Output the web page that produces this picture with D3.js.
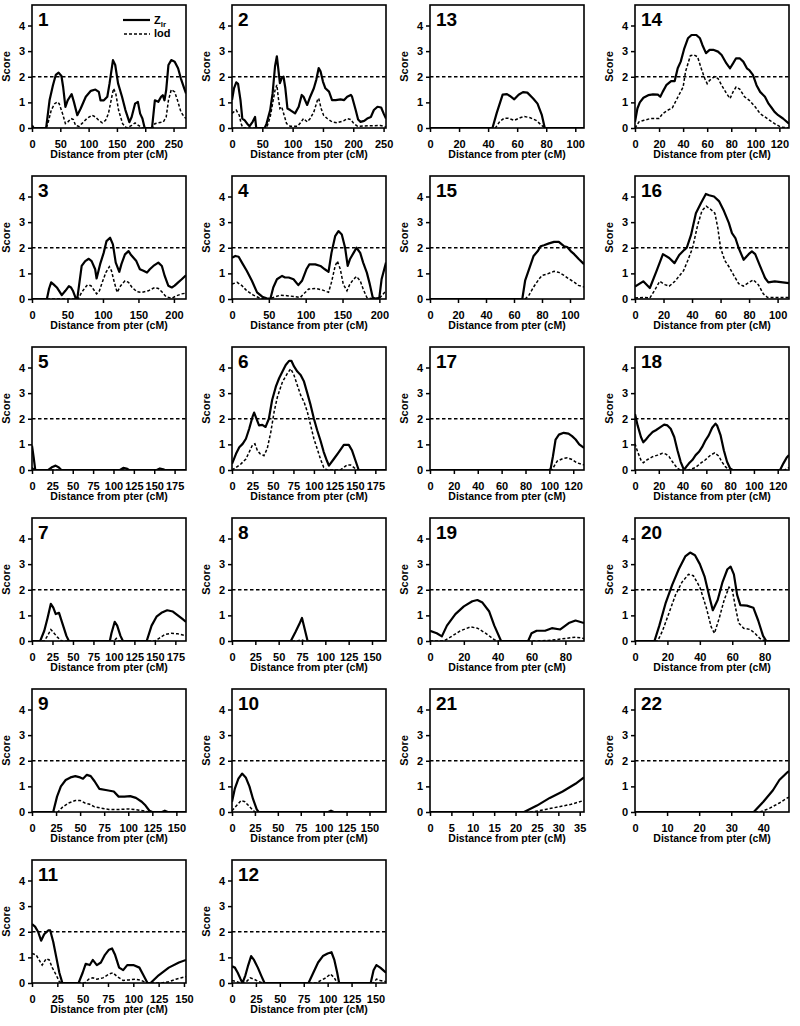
<!DOCTYPE html>
<html><head><meta charset="utf-8">
<script src="https://cdn.jsdelivr.net/npm/d3@7"></script>
<style>
body{margin:0;background:#fff}
svg{display:block}
text,tspan{font-family:"Liberation Sans",Arial,Helvetica,sans-serif;font-weight:bold;fill:#000}
</style>
</head><body>
<svg id="c" width="800" height="1026"></svg>
<script>
// ---------- data ----------
const chromLabels = ["1","2","3","4","5","6","7","8","9","10","11","12","13","14","15","16","17","18","19","20","21","22"];
const xMaxCM = [272,254,217,209,189,188,188,165,160,168,152,161,106,128,110,108,129,129.5,91,95,36,48];
const xTickStep = [50,50,50,50,25,25,25,25,25,25,25,25,20,20,20,20,20,20,20,20,5,10];
const yTicks = [0,1,2,3,4];
const yMax = 4.8;
const threshold = 2;
const legendLabels = ["Z","lod"];

const zlr1 = [[0,0.1],[3,0],[25,0],[31,1.08],[37,1.67],[42,2.07],[47,2.16],[52,2.03],[55,1.6],[59,0.82],[63,1.08],[67,1.22],[70,1.32],[74,1.02],[80,0.5],[86,0.76],[95,1.22],[104,1.45],[112,1.5],[118,1.41],[121,1.08],[127,1.08],[133,1.22],[137,1.74],[143,2.65],[147,2.46],[152,1.74],[159,1.22],[165,0.7],[172,0.23],[176,0.43],[182,0.95],[187,1.02],[191,0.56],[195,0.37],[199,0],[212,0],[217,1.08],[223,1.02],[228,1.22],[231,1.28],[234,1.08],[237,1.48],[241,2.46],[246,2.65],[252,2.59],[258,2.33],[263,1.93],[269,1.54],[272,1.35]];
const lod1 = [[0,0.05],[3,0],[25,0],[28,0.17],[34,0.7],[40,0.95],[45,1.02],[48,0.95],[54,0.56],[59,0.17],[63,0.23],[69,0.37],[73,0.33],[77,0.1],[83,0.06],[88,0.17],[97,0.37],[106,0.5],[112,0.43],[118,0.3],[124,0.2],[130,0.3],[135,0.56],[141,1.22],[144,1.54],[148,1.34],[153,0.69],[160,0.17],[167,0],[176,0.1],[182,0.2],[188,0.1],[195,0],[214,0],[217,0.17],[223,0.2],[232,0.24],[237,0.43],[241,1.08],[246,1.5],[252,1.41],[257,1.08],[263,0.63],[269,0.43],[272,0.37]];
const zlr2 = [[0,1.09],[3.3,1.55],[7,1.78],[10,1.72],[14,1.09],[17,0.37],[21,0.3],[25,0.17],[29,0.07],[34,0.24],[38,0.43],[40,0],[54,0],[57,0.17],[63,0.7],[67,1.36],[71,2.41],[74,2.8],[76.5,2.28],[79,1.75],[82,1.95],[85,2.0],[88,1.55],[91.5,0.76],[96,0.7],[104,0.57],[110,0.83],[115,1.29],[118,1.22],[124,0.9],[129,1.22],[135,1.55],[139,1.88],[143,2.34],[146,2.21],[150,1.81],[154,1.55],[160,1.42],[165,1.09],[171,1.09],[179,1.12],[185,1.09],[190,1.22],[196,1.29],[198,1.22],[204,0.7],[208,0.33],[212,0.24],[218,0.28],[223,0.37],[229,0.43],[234,0.7],[240,0.83],[246,0.8],[250,0.57],[254,0.37]];
const lod2 = [[0,0.57],[3,0.63],[7,0.7],[12,0.5],[15,0.17],[18,0],[57,0],[63,0.43],[67,0.96],[71,1.48],[74,1.68],[76.5,1.16],[79,0.76],[82,0.83],[86,0.5],[90,0.17],[96,0.07],[108,0.07],[113,0.2],[118,0.37],[124,0.24],[129,0.37],[135,0.63],[141,1.09],[143,1.16],[147,0.76],[151,0.5],[157,0.37],[165,0.24],[173,0.2],[184,0.28],[190,0.37],[196,0.33],[201,0.17],[207,0.07],[245,0.1],[254,0.04]];
const zlr3 = [[0,0],[21,0],[24,0.4],[27,0.65],[30,0.58],[35,0.45],[42,0.15],[47,0.32],[52,0.5],[55,0.45],[58,0.3],[62,0],[64,0.05],[70,1.29],[75,1.48],[80,1.57],[84,1.48],[89,1.16],[91,0.8],[96,1.36],[101,1.8],[105,2.26],[110,2.39],[114,2.13],[118,1.42],[123,1.06],[126,1.36],[131,1.74],[136,1.87],[139,1.74],[143,1.61],[147,1.48],[152,1.16],[157,1.1],[162,1.03],[166,1.16],[171,1.29],[178,1.42],[183,1.29],[187,0.9],[192,0.52],[197,0.45],[201,0.52],[206,0.65],[211,0.77],[217,0.93]];
const lod3 = [[0,0],[65,0],[70,0.26],[75,0.45],[78,0.55],[83,0.52],[88,0.32],[91,0.2],[95,0.32],[99,0.65],[104,1.03],[109,1.26],[112,1.1],[116,0.65],[120,0.26],[125,0.52],[131,0.71],[136,0.65],[141,0.45],[148,0.28],[155,0.26],[164,0.32],[173,0.45],[178,0.41],[183,0.28],[189,0.09],[197,0.03],[204,0.13],[211,0.2],[217,0.23]];
const zlr4 = [[0,1.61],[4.5,1.68],[9,1.65],[13.5,1.42],[20,1.1],[27,0.71],[34,0.26],[41,0.09],[47,0.03],[52,0],[56,0.45],[61,0.77],[68,0.9],[72,0.84],[77,0.84],[83.5,0.77],[90,0.54],[95,0.71],[101,1.16],[105,1.35],[113,1.35],[120,1.29],[126,1.16],[131,1.06],[135,1.8],[140,2.45],[144.5,2.65],[149,2.52],[153.5,2.0],[157,1.29],[160,1.55],[165,1.8],[169,2.0],[174,1.8],[178,1.42],[183,1.03],[187,0.58],[191,0.06],[195.5,0],[200,0.06],[203,0.77],[209,1.42]];
const lod4 = [[0,0.58],[7,0.65],[13.5,0.52],[20,0.32],[29,0.15],[38,0.03],[47,0],[56,0.06],[65.5,0.15],[74.5,0.13],[83.5,0.1],[92.6,0.06],[97,0.19],[104,0.39],[113,0.41],[122,0.36],[131,0.26],[135,0.65],[140,1.29],[143,1.48],[147,1.16],[151,0.58],[156,0.32],[160,0.58],[165,0.77],[169,0.88],[174,0.71],[178,0.39],[183,0.06],[192,0],[201,0.06],[205,0.19],[209,0.32]];
const zlr5 = [[0,0.95],[2,0.5],[4,0],[20,0],[25,0.12],[29,0.17],[33,0.1],[36,0],[108,0],[112,0.08],[116,0.06],[119,0],[153,0],[157,0.06],[161,0.03],[163,0],[189,0]];
const lod5 = [[0,0.1],[3,0],[189,0]];
const zlr6 = [[0,0.24],[4.9,0.63],[8.9,0.89],[13,1.02],[17,1.22],[21,1.61],[25,2.07],[27,2.24],[29,2.07],[33,1.74],[37,1.76],[41,1.68],[45,2.0],[49,2.73],[53.5,3.25],[57.5,3.58],[61.6,3.84],[65.6,4.1],[69.7,4.26],[72.5,4.26],[75.7,4.04],[79.8,3.84],[83.8,3.71],[87.9,3.45],[92,2.99],[96,2.53],[100,2.0],[104,1.55],[108,1.15],[112,0.7],[116,0.35],[118.3,0.17],[124.3,0.43],[130.4,0.7],[136.5,0.98],[142.6,0.98],[146.6,0.76],[150.7,0.37],[154.7,0],[188,0]];
const lod6 = [[0,0],[4.9,0.1],[11,0.24],[17,0.43],[21,0.7],[25,0.98],[28,1.02],[31,0.76],[34.4,0.63],[39,0.56],[43,0.83],[47.4,1.48],[51.4,2.27],[55.5,2.86],[61.6,3.44],[67.6,3.77],[71.7,3.95],[75.7,3.7],[79.8,3.3],[83.8,2.92],[87.9,2.66],[92,2.27],[96,1.74],[100,1.22],[104,0.83],[108,0.43],[112,0.1],[116,0],[132,0],[136.5,0.1],[140.5,0.2],[144.6,0.2],[148.6,0.1],[152.7,0],[188,0]];
const zlr7 = [[0,0],[10,0],[15,0.4],[19,0.9],[23,1.45],[26,1.3],[29,1.05],[33,1.1],[37,0.7],[42,0.2],[45,0],[95,0],[97,0.3],[101,0.75],[104,0.6],[108,0.2],[111,0],[140,0],[146,0.6],[152,0.95],[158,1.1],[165,1.2],[172,1.15],[178,1.0],[184,0.85],[188,0.75]];
const lod7 = [[0,0],[15,0],[19,0.2],[23,0.45],[27,0.3],[31,0.15],[36,0],[100,0],[103,0.1],[106,0],[150,0],[155,0.1],[162,0.25],[170,0.3],[178,0.28],[188,0.2]];
const zlr8 = [[0,0],[63,0],[68,0.35],[72,0.65],[75,0.9],[78,0.45],[81,0],[165,0]];
const lod8 = [[0,0],[70,0],[74,0.05],[78,0],[165,0]];
const zlr9 = [[0,0],[22,0],[26,0.6],[30,1.0],[35,1.25],[40,1.35],[45,1.4],[50,1.35],[53,1.3],[57,1.45],[61,1.4],[65,1.2],[70,0.9],[78,0.85],[85,0.8],[90,0.6],[96,0.6],[102,0.62],[108,0.55],[114,0.4],[118,0.25],[122,0.05],[125,0],[135,0],[138,0.05],[141,0],[160,0]];
const lod9 = [[0,0],[27,0],[32,0.2],[38,0.35],[45,0.45],[50,0.45],[55,0.35],[60,0.3],[65,0.2],[72,0.15],[80,0.1],[90,0.1],[100,0.12],[110,0.08],[118,0.03],[122,0],[160,0]];
const zlr10 = [[0,0.4],[3,0.9],[7,1.3],[11,1.5],[15,1.35],[19,1.0],[23,0.5],[27,0.1],[29,0],[105,0],[108,0.05],[111,0],[168,0]];
const lod10 = [[0,0.05],[5,0.25],[10,0.45],[14,0.4],[18,0.25],[22,0.1],[25,0],[168,0]];
const zlr11 = [[0,2.3],[3,2.2],[6,2.0],[9,1.65],[12,1.9],[16,2.05],[18,2.05],[21,1.6],[24,1.0],[27,0.4],[30,0],[46,0],[50,0.4],[53,0.75],[57,0.7],[60,0.9],[64,0.7],[68,0.8],[72,1.1],[76,1.3],[79,1.35],[82,1.1],[86,0.6],[90,0.5],[94,0.7],[100,0.7],[106,0.6],[110,0.3],[114,0],[117,0],[125,0.3],[135,0.6],[145,0.8],[152,0.9]];
const lod11 = [[0,1.15],[4,1.1],[7,0.9],[10,0.7],[14,0.95],[17,0.9],[20,0.6],[24,0.3],[27,0.05],[30,0],[52,0],[56,0.15],[60,0.2],[64,0.15],[70,0.2],[76,0.35],[80,0.4],[84,0.25],[90,0.1],[96,0.12],[102,0.15],[108,0.1],[113,0],[128,0],[135,0.05],[142,0.15],[152,0.25]];
const zlr12 = [[0,0.65],[3,0.6],[6,0.4],[9,0.15],[11,0],[14,0.3],[17,0.7],[20,1.05],[23,0.9],[27,0.6],[31,0.25],[34,0],[80,0],[85,0.4],[90,0.8],[95,1.05],[100,1.15],[104,1.2],[107,0.9],[110,0.4],[112,0],[145,0],[148,0.5],[151,0.7],[155,0.6],[158,0.5],[161,0.4]];
const lod12 = [[0,0.1],[5,0.05],[9,0],[15,0.05],[19,0.2],[23,0.15],[28,0.05],[32,0],[88,0],[93,0.1],[98,0.2],[103,0.35],[107,0.2],[110,0],[148,0],[151,0.15],[155,0.1],[161,0.05]];
const zlr13 = [[0,0],[43,0],[46,0.6],[50,1.3],[53,1.32],[55,1.25],[58,1.12],[61,1.3],[64,1.4],[67,1.38],[71,1.15],[74,0.95],[77,0.5],[79,0],[106,0]];
const lod13 = [[0,0],[45,0],[48,0.25],[51,0.38],[54,0.38],[58,0.3],[62,0.4],[65,0.45],[69,0.4],[73,0.3],[77,0.1],[79,0],[106,0]];
const zlr14 = [[0,0.24],[2,0.76],[4,1.0],[7,1.18],[11,1.28],[15,1.31],[19,1.3],[21,1.22],[23,1.41],[26,1.67],[30,1.83],[33,1.83],[35.5,2.33],[38,2.59],[41,3.11],[44,3.5],[47,3.63],[51,3.63],[54,3.5],[56,3.24],[59,2.92],[62,3.05],[65,3.05],[69,2.98],[72,2.85],[76,2.52],[79,2.33],[81.5,2.52],[84,2.72],[87,2.72],[90,2.59],[93,2.33],[95,2.26],[98,2.07],[101,1.67],[104,1.41],[108,1.22],[111,0.95],[114,0.76],[116,0.63],[119,0.5],[123,0.37],[128,0.17]];
const lod14 = [[0,0],[3.3,0.24],[7.5,0.3],[13,0.37],[20,0.37],[23,0.56],[27,0.69],[31,0.78],[35,1.15],[40,1.6],[42,2.2],[46,2.82],[49,2.85],[52,2.78],[55,2.33],[58,1.93],[60,1.73],[62,1.86],[66,2.0],[69,1.93],[72,1.67],[76,1.35],[79,1.15],[81.5,1.41],[84,1.6],[87,1.52],[91,1.22],[95,1.08],[100,0.82],[104,0.56],[108,0.43],[112,0.3],[116,0.17],[121,0.04],[128,0]];
const zlr15 = [[0,0],[65,0],[66,0.03],[68,0.73],[72,1.36],[74,1.68],[77,1.87],[79,2.06],[81.4,2.1],[85,2.17],[88.6,2.23],[92,2.23],[95.7,2.06],[98,2.03],[100.5,1.87],[103,1.75],[106.4,1.55],[110,1.36]];
const lod15 = [[0,0],[68,0],[70.7,0.15],[74,0.47],[78,0.79],[80,0.92],[84,0.98],[88.6,1.08],[92,1.04],[95.7,0.92],[99,0.79],[103,0.66],[106,0.53],[110,0.47]];
const zlr16 = [[0,0.49],[5.8,0.69],[10.4,0.43],[15,1.08],[19.6,1.75],[24,1.6],[27.7,1.4],[31,1.72],[34.6,1.92],[36.3,2.0],[39.3,2.5],[42.7,3.35],[46.2,3.74],[49.7,4.1],[52,4.05],[55.4,4.0],[58.9,3.82],[62.4,3.43],[65.8,2.97],[68,2.57],[70.4,2.38],[72.7,1.99],[76.2,1.53],[79.7,1.75],[82,1.86],[84.3,1.75],[87.8,1.27],[91.2,0.82],[93.5,0.65],[98,0.69],[108,0.62]];
const lod16 = [[0,0.04],[6,0.06],[10.4,0.04],[14,0.36],[17.3,0.69],[21,0.56],[24,0.5],[28,0.69],[31,0.9],[34,1.1],[37,1.5],[40.4,2.0],[44,2.9],[47,3.45],[50,3.62],[53,3.5],[56,3.35],[58,2.8],[60,2.0],[63,1.5],[66,1.25],[69,0.95],[72.7,0.6],[76,0.5],[80,0.65],[83,0.75],[86.6,0.55],[90,0.2],[93,0.06],[108,0.06]];
const zlr17 = [[0,0],[99.6,0],[101,0.03],[103,0.54],[105.2,1.19],[108,1.38],[112,1.45],[116,1.42],[119,1.32],[122,1.19],[125,1.0],[129,0.86]];
const lod17 = [[0,0],[102,0],[104,0.15],[106.6,0.35],[111,0.44],[115,0.48],[119,0.41],[123,0.28],[127.5,0.22],[129,0.2]];
const zlr18 = [[0,2.19],[2.2,1.74],[5,1.29],[7,1.08],[9.2,1.19],[12,1.35],[14.8,1.48],[17.5,1.55],[21.7,1.68],[24.5,1.77],[27.3,1.74],[30,1.61],[33,1.29],[35.7,0.77],[38.4,0.32],[41.2,0],[43.2,0.13],[45.4,0.26],[48.2,0.39],[51,0.58],[53.8,0.71],[56.5,0.9],[59.3,1.16],[62,1.35],[64.9,1.65],[67.7,1.81],[69,1.74],[72,1.35],[74.7,0.77],[77.4,0.32],[80,0.06],[82,0],[122,0],[124.8,0.26],[127.6,0.49],[129.5,0.58]];
const lod18 = [[0,1.03],[2.2,0.71],[5,0.39],[7,0.28],[10.6,0.41],[14.8,0.52],[19,0.58],[23,0.65],[26,0.62],[28.7,0.52],[31.5,0.32],[35.7,0.06],[38.4,0],[45,0],[51,0.1],[55,0.26],[59,0.39],[63.5,0.58],[67,0.67],[70.5,0.54],[73,0.32],[76,0.13],[79,0],[126,0],[128.4,0.06],[129.5,0.1]];
const zlr19 = [[0,0.4],[4,0.3],[7,0.18],[10,0.6],[15,1.05],[20,1.35],[25,1.55],[28,1.6],[31,1.5],[35,1.15],[38,0.6],[42,0],[58,0],[60,0.3],[63,0.4],[68,0.4],[72,0.5],[77,0.45],[82,0.7],[86,0.8],[91,0.7]];
const lod19 = [[0,0],[8,0],[12,0.15],[18,0.4],[24,0.55],[28,0.5],[33,0.3],[38,0.05],[40,0],[62,0],[70,0.02],[80,0.1],[86,0.15],[91,0.1]];
const zlr20 = [[0,0],[12,0],[15,0.6],[19,1.5],[23,2.2],[27,2.8],[31,3.3],[34,3.45],[37,3.35],[40,3.0],[43,2.5],[46,1.7],[48,1.2],[51,1.6],[54,2.3],[57,2.8],[59,2.9],[61,2.6],[63,1.8],[65,1.4],[69,1.38],[73,1.3],[76,0.8],[79,0.2],[81,0],[95,0]];
const lod20 = [[0,0],[14,0],[17,0.4],[21,1.1],[25,1.8],[29,2.3],[33,2.6],[36,2.55],[40,2.1],[44,1.3],[47,0.55],[49,0.3],[52,0.9],[55,1.6],[58,2.1],[60,2.0],[62,1.3],[64,0.7],[67,0.5],[71,0.45],[74,0.3],[77,0.1],[80,0],[95,0]];
const zlr21 = [[0,0],[22,0],[25,0.25],[28,0.55],[31,0.8],[34,1.1],[36,1.35]];
const lod21 = [[0,0],[24,0],[27,0.1],[30,0.2],[33,0.3],[36,0.45]];
const zlr22 = [[0,0],[37,0],[40,0.4],[43,0.85],[45,1.25],[47.5,1.55],[48,1.6]];
const lod22 = [[0,0],[39,0],[42,0.15],[45,0.35],[47.5,0.55],[48,0.58]];

const zlrData = [zlr1,zlr2,zlr3,zlr4,zlr5,zlr6,zlr7,zlr8,zlr9,zlr10,zlr11,zlr12,zlr13,zlr14,zlr15,zlr16,zlr17,zlr18,zlr19,zlr20,zlr21,zlr22];
const lodData = [lod1,lod2,lod3,lod4,lod5,lod6,lod7,lod8,lod9,lod10,lod11,lod12,lod13,lod14,lod15,lod16,lod17,lod18,lod19,lod20,lod21,lod22];

// ---------- layout ----------
const svg = d3.select("#c");
const W = 154, H = 123;
const colLeft = [32, 232, 430, 635];
const rowTop = [5, 176, 347, 518, 689, 860];
const grid = [[1,2,13,14],[3,4,15,16],[5,6,17,18],[7,8,19,20],[9,10,21,22],[11,12]];

grid.forEach((row, ri) => row.forEach((chr, ci) => drawPanel(chr, colLeft[ci], rowTop[ri])));

function drawPanel(chr, left, top) {
  const i = chr - 1;
  const x = d3.scaleLinear().domain([0, xMaxCM[i]]).range([0, W]);
  const y = d3.scaleLinear().domain([0, yMax]).range([H, 0]);
  const g = svg.append("g").attr("transform", `translate(${left},${top})`);
  const cid = "clip" + chr;
  g.append("clipPath").attr("id", cid).append("rect").attr("x", 0).attr("y", 0).attr("width", W).attr("height", H);

  // threshold line
  g.append("line").attr("x1", 0).attr("x2", W).attr("y1", y(threshold)).attr("y2", y(threshold))
    .attr("stroke", "#000").attr("stroke-width", 1.4).attr("stroke-dasharray", "3.5,2.5");

  const line = d3.line().x(d => x(d[0])).y(d => y(d[1]));
  g.append("path").datum(lodData[i]).attr("d", line).attr("fill", "none").attr("stroke", "#000")
    .attr("stroke-width", 1.5).attr("stroke-dasharray", "3,2").attr("clip-path", `url(#${cid})`);
  g.append("path").datum(zlrData[i]).attr("d", line).attr("fill", "none").attr("stroke", "#000")
    .attr("stroke-width", 2.2).attr("stroke-linejoin", "round").attr("clip-path", `url(#${cid})`);

  // axes
  const xt = d3.range(0, xMaxCM[i] + 1e-6, xTickStep[i]);
  const xa = g.append("g").attr("transform", `translate(0,${H})`)
    .call(d3.axisBottom(x).tickValues(xt).tickSize(4).tickPadding(8).tickFormat(d3.format("d")));
  const ya = g.append("g")
    .call(d3.axisLeft(y).tickValues(yTicks).tickSize(4).tickPadding(3).tickFormat(d3.format("d")));
  [xa, ya].forEach(a => {
    a.attr("font-family", null).attr("font-size", null);
    a.select(".domain").remove();
    a.selectAll("line").attr("stroke", "#000").attr("stroke-width", 1.5);
    a.selectAll("text").attr("fill", "#000").style("font-size", "11px");
  });

  // frame
  g.append("rect").attr("x", 0).attr("y", 0).attr("width", W).attr("height", H)
    .attr("fill", "none").attr("stroke", "#000").attr("stroke-width", 1.6);

  // titles
  g.append("text").attr("x", W / 2).attr("y", H + 30).attr("text-anchor", "middle")
    .style("font-size", "10.5px").text("Distance from pter (cM)");
  g.append("text").attr("transform", `translate(-22,${H / 2}) rotate(-90)`).attr("text-anchor", "middle")
    .style("font-size", "11px").text("Score");
  g.append("text").attr("x", 6).attr("y", 21).style("font-size", "19px").text(chromLabels[i]);

  if (chr === 1) {
    g.append("line").attr("x1", 91).attr("x2", 118).attr("y1", 15).attr("y2", 15)
      .attr("stroke", "#000").attr("stroke-width", 2.2);
    g.append("line").attr("x1", 92).attr("x2", 118).attr("y1", 29).attr("y2", 29)
      .attr("stroke", "#000").attr("stroke-width", 1.5).attr("stroke-dasharray", "3,2");
    const t = g.append("text").attr("x", 122).attr("y", 19).attr("fill", "#000").style("font-size", "11px");
    t.append("tspan").attr("fill", "#000").text(legendLabels[0]);
    t.append("tspan").attr("dy", 3).attr("fill", "#000").style("font-size", "8px").style("fill", "#000").text("lr");
    g.append("text").attr("x", 122).attr("y", 32).attr("fill", "#000").style("font-size", "11px").text(legendLabels[1]);
  }
}
</script>
</body></html>
